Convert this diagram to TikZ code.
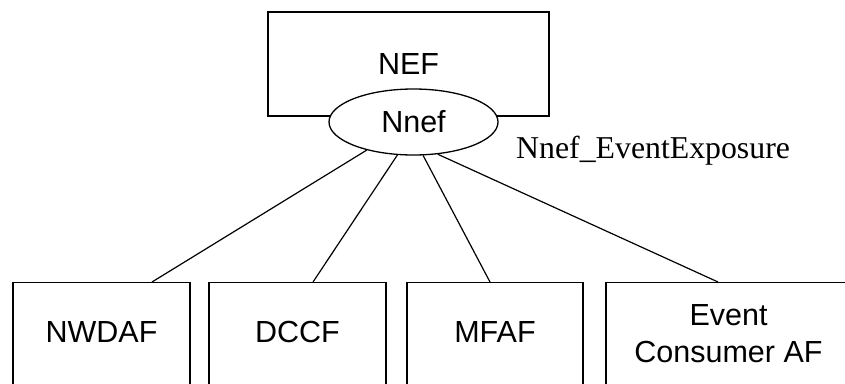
\documentclass[tikz,border=0pt]{standalone}
\usepackage{fontspec}
\setmainfont{Liberation Sans}
\newfontfamily\labelfont{Liberation Serif}
\usetikzlibrary{shapes.geometric}

\tikzset{
  nfbox/.style={draw, line width=1.3pt, inner sep=0pt, font=\fontsize{30.5}{37}\selectfont},
  afbox/.style={nfbox, anchor=north, text height=60pt, text depth=60pt},
  svcell/.style={ellipse, draw, fill=white, line width=1.3pt, inner sep=0pt,
    minimum width=169pt, minimum height=66pt, font=\fontsize{30.5}{37}\selectfont},
  link/.style={line width=1.2pt}
}

\begin{document}
\begin{tikzpicture}[x=1pt,y=1pt,yscale=-1,xscale=1]
\useasboundingbox (0,0) rectangle (845,383);
\clip (0,0) rectangle (845,383);

%Shape: Rectangle [NEF]
\node [nfbox, minimum width=281pt, minimum height=104pt] (nef) at (408.5,64) {NEF};
%Shape: Ellipse [Nnef]
\node [svcell] (nnef) at (413.5,122) {Nnef};

%Shape: Rectangle [consumers, bottom edge out of frame]
\node [afbox, minimum width=177pt] (nwdaf) at (101.5,282) {NWDAF};
\node [afbox, minimum width=177pt] (dccf) at (297.5,282) {DCCF};
\node [afbox, minimum width=176pt] (mfaf) at (495,282) {MFAF};
\node [nfbox, anchor=north, align=center, text height=80pt, text depth=40pt, minimum width=245pt] (evaf) at (728.5,282) {Event\\Consumer AF};

%Straight Lines
\draw [link] (nnef.211.6) -- ([xshift=50.5pt]nwdaf.north);
\draw [link] (nnef.244.8) -- ([xshift=15.5pt]dccf.north);
\draw [link] (nnef.286) -- ([xshift=-5pt]mfaf.north);
\draw [link] (nnef.307.4) -- ([xshift=-10.5pt]evaf.north);

% Text Node
\node [anchor=base west, inner sep=0pt, font=\labelfont\fontsize{31.8}{38}\selectfont] (evexp) at (516,158) {Nnef\_EventExposure};

\end{tikzpicture}
\end{document}
